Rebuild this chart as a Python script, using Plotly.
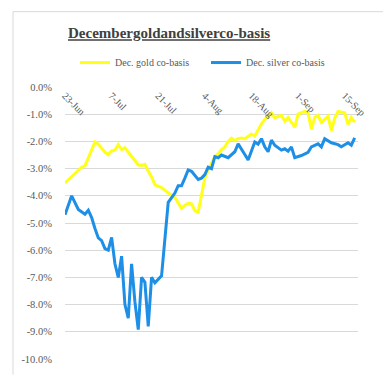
import plotly.graph_objects as go

YEAR = "2014-"

gold_days = ["06-23","06-25","06-27","06-28","06-29","06-30","07-01","07-02","07-03","07-04",
             "07-05","07-06","07-07","07-08","07-09","07-10","07-11","07-12","07-13","07-14",
             "07-15","07-16","07-17","07-18","07-19","07-20","07-21","07-22","07-23","07-24",
             "07-25","07-26","07-27","07-28","07-29","07-30","07-31","08-01","08-02","08-03",
             "08-04","08-05","08-06","08-07","08-08","08-09","08-10","08-11","08-12","08-13",
             "08-14","08-15","08-16","08-17","08-18","08-19","08-20","08-21","08-22","08-23",
             "08-24","08-25","08-27","08-28","08-29","08-31","09-01","09-03","09-04","09-05",
             "09-06","09-07","09-08","09-10","09-11","09-12","09-13","09-15","09-16","09-17",
             "09-18"]
gold_vals = [-3.53,-3.30,-3.10,-2.95,-2.90,-2.60,-2.30,-2.02,-2.10,-2.25,
             -2.40,-2.48,-2.35,-2.32,-2.12,-2.30,-2.23,-2.40,-2.55,-2.70,
             -2.86,-2.88,-2.84,-3.10,-3.30,-3.60,-3.64,-3.70,-3.80,-3.90,
             -3.98,-4.06,-4.25,-4.46,-4.35,-4.28,-4.30,-4.55,-4.60,-3.90,
             -3.35,-3.05,-2.80,-2.56,-2.45,-2.30,-2.20,-2.00,-1.88,-1.97,
             -1.90,-1.88,-1.90,-1.80,-1.73,-1.80,-1.55,-1.35,-1.20,-1.10,
             -0.95,-1.13,-1.04,-1.25,-1.12,-1.48,-1.00,-0.90,-0.95,-1.55,
             -1.12,-1.04,-1.30,-1.08,-1.60,-1.15,-0.90,-0.95,-1.37,-1.12,
             -1.30]

silver_days = ["06-23","06-25","06-27","06-28","06-29","06-30","07-01","07-02","07-03","07-04",
               "07-05","07-06","07-07","07-08","07-09","07-10","07-11","07-12","07-13","07-14",
               "07-15","07-16","07-17","07-18","07-19","07-20","07-21","07-22","07-24","07-25",
               "07-26","07-27","07-28","07-29","07-30","07-31","08-01","08-02","08-03","08-04",
               "08-05","08-06","08-07","08-08","08-09","08-10","08-11","08-13","08-14","08-16",
               "08-17","08-19","08-20","08-21","08-22","08-23","08-24","08-25","08-27","08-28",
               "08-29","08-30","08-31","09-02","09-04","09-05","09-06","09-07","09-08","09-09",
               "09-11","09-13","09-14","09-16","09-17","09-18"]
silver_vals = [-4.70,-4.00,-4.50,-4.60,-4.68,-4.53,-4.80,-5.20,-5.55,-5.65,
               -5.94,-6.00,-5.53,-6.50,-7.00,-6.22,-8.00,-8.50,-6.50,-7.90,
               -8.92,-7.00,-7.18,-8.80,-7.00,-7.20,-7.05,-6.94,-4.24,-4.05,
               -3.90,-3.63,-3.63,-3.35,-3.05,-3.10,-3.24,-3.40,-3.35,-3.22,
               -2.95,-3.00,-2.56,-2.60,-2.50,-2.55,-2.60,-2.38,-2.09,-2.48,
               -2.68,-2.02,-2.10,-1.90,-2.20,-2.38,-1.95,-2.14,-2.32,-2.27,
               -2.36,-2.20,-2.60,-2.52,-2.40,-2.20,-2.14,-2.09,-2.20,-1.90,
               -2.05,-2.12,-2.20,-2.05,-2.14,-1.87]

x_tick_days = ["06-23","07-07","07-21","08-04","08-18","09-01","09-15"]
x_tick_labels = ["23-Jun","7-Jul","21-Jul","4-Aug","18-Aug","1-Sep","15-Sep"]
y_tick_vals = [0,-1,-2,-3,-4,-5,-6,-7,-8,-9,-10]
y_tick_labels = ["0.0%","-1.0%","-2.0%","-3.0%","-4.0%","-5.0%","-6.0%","-7.0%","-8.0%","-9.0%","-10.0%"]

W, H = 383, 376
ML, MR, MT, MB = 65, 25, 87, 11
FONT = "Liberation Serif"
GRAY = "#595959"

fig = go.Figure()
fig.add_trace(go.Scatter(x=[YEAR + d for d in gold_days], y=gold_vals, mode="lines",
                         name="Dec. gold co-basis", line=dict(color="#FFFF1A", width=3)))
fig.add_trace(go.Scatter(x=[YEAR + d for d in silver_days], y=silver_vals, mode="lines",
                         name="Dec. silver co-basis", line=dict(color="#1E8FE6", width=3)))

pw = W - ML - MR
ph = H - MT - MB
def px_x(p):
    return (p - ML) / pw
def px_y(p):
    return (H - MB - p) / ph

fig.update_layout(
    width=W, height=H,
    margin=dict(l=ML, r=MR, t=MT, b=MB),
    paper_bgcolor="white", plot_bgcolor="white",
    font=dict(family=FONT, size=10, color=GRAY),
    title=dict(text="<b><u>Decembergoldandsilverco-basis</u></b>",
               font=dict(family=FONT, size=15, color="#404040"),
               x=68 / W, xanchor="left", xref="container",
               y=1 - 33 / H, yanchor="middle", yref="container"),
    legend=dict(orientation="h", x=px_x(75), y=px_y(62), xanchor="left", yanchor="middle",
                font=dict(family=FONT, size=10, color=GRAY), bgcolor="rgba(0,0,0,0)",
                entrywidth=86, entrywidthmode="pixels", traceorder="normal"),
    xaxis=dict(type="date", range=[YEAR + "06-23", YEAR + "09-19"],
               tickvals=[YEAR + d for d in x_tick_days], ticktext=x_tick_labels,
               tickangle=45, side="bottom", anchor="free", position=1,
               showgrid=False, zeroline=False, showline=False, ticks="",
               tickfont=dict(family=FONT, size=10, color=GRAY)),
    yaxis=dict(range=[-10, 0], tickvals=y_tick_vals, ticktext=y_tick_labels,
               showgrid=True, gridcolor="#D9D9D9", gridwidth=1, zeroline=False,
               showline=False, ticks="", ticklabelstandoff=12,
               tickfont=dict(family=FONT, size=10.5, color=GRAY)),
    shapes=[
        dict(type="line", xref="paper", yref="paper", x0=px_x(13), x1=px_x(13),
             y0=px_y(10), y1=px_y(H + 5), line=dict(color="#D9D9D9", width=1)),
        dict(type="line", xref="paper", yref="paper", x0=px_x(13), x1=px_x(W + 5),
             y0=px_y(10), y1=px_y(10), line=dict(color="#D9D9D9", width=1)),
    ],
)

fig.write_html("out.html")
